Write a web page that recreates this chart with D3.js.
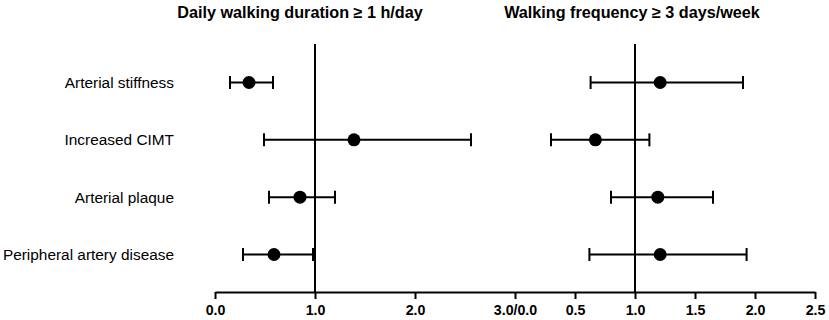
<!DOCTYPE html>
<html>
<head>
<meta charset="utf-8">
<script src="https://cdn.jsdelivr.net/npm/d3@7"></script>
<style>
  body { margin: 0; background: #fff; }
  text { font-family: "Liberation Sans", Arial, sans-serif; fill: #000; }
</style>
</head>
<body>
<script>
const w = 829;
const h = 320;

const outcomes = ['Arterial stiffness', 'Increased CIMT', 'Arterial plaque', 'Peripheral artery disease'];

// daily walking duration >= 1 h/day
const durationOR = [0.34, 1.39, 0.85, 0.59];
const durationLow = [0.15, 0.49, 0.54, 0.28];
const durationHigh = [0.58, 2.56, 1.20, 0.98];

// walking frequency >= 3 days/week
const frequencyOR = [1.21, 0.67, 1.19, 1.21];
const frequencyLow = [0.63, 0.30, 0.80, 0.62];
const frequencyHigh = [1.90, 1.12, 1.65, 1.93];

const leftTicks = [0, 1, 2, 3];
const rightTicks = [0.5, 1, 1.5, 2, 2.5];
const titles = ['Daily walking duration \u2265 1 h/day', 'Walking frequency \u2265 3 days/week'];

const axisY = 292;

const xLeft = d3.scaleLinear().domain([0, 3]).range([215, 515]);
const xRight = d3.scaleLinear().domain([0, 2.5]).range([515, 815]);
const y = d3.scalePoint().domain(outcomes).range([82.5, 254.5]);

const svg = d3.select('body').append('svg')
  .attr('width', w)
  .attr('height', h)
  .attr('viewBox', [0, 0, w, h]);

// row labels
svg.selectAll('text.row-label')
  .data(outcomes)
  .enter().append('text')
    .attr('class', 'row-label')
    .attr('x', 174)
    .attr('y', d => y(d))
    .attr('dy', '0.36em')
    .attr('text-anchor', 'end')
    .style('font-size', '15.4px')
    .text(d => d);

// titles (left one sits a bit left of its reference line)
svg.selectAll('text.title')
  .data([xLeft(1) - 15, xRight(1) - 3])
  .enter().append('text')
    .attr('class', 'title')
    .attr('x', d => d)
    .attr('y', 18)
    .attr('text-anchor', 'middle')
    .style('font-size', '16.2px')
    .style('font-weight', 'bold')
    .text((d, i) => titles[i]);

// reference lines at 1.0
svg.selectAll('line.ref')
  .data([xLeft(1), xRight(1)])
  .enter().append('line')
    .attr('class', 'ref')
    .attr('x1', d => d)
    .attr('x2', d => d)
    .attr('y1', 44)
    .attr('y2', axisY)
    .attr('stroke', '#000')
    .attr('stroke-width', 2);

// axes
const fmt = d3.format('.1f');
const axisLeft = d3.axisBottom(xLeft)
  .tickValues(leftTicks)
  .tickSize(7)
  .tickSizeOuter(0)
  .tickFormat(d => d === 3 ? '3.0/0.0' : fmt(d));
const axisRight = d3.axisBottom(xRight)
  .tickValues(rightTicks)
  .tickSize(7)
  .tickSizeOuter(0)
  .tickFormat(fmt);

[axisLeft, axisRight].forEach(ax => {
  const g = svg.append('g')
    .attr('transform', `translate(0,${axisY})`)
    .call(ax);
  g.select('.domain').attr('stroke-width', 2);
  g.selectAll('.tick line').attr('stroke-width', 2);
  g.selectAll('.tick text')
    .attr('y', 13)
    .style('font-family', '"Liberation Sans", Arial, sans-serif')
    .style('font-size', '14.2px')
    .style('font-weight', 'bold');
});

// forest plot rows
const panels = [
  { x: xLeft, or: durationOR, lo: durationLow, hi: durationHigh },
  { x: xRight, or: frequencyOR, lo: frequencyLow, hi: frequencyHigh }
];

panels.forEach(p => {
  const rows = outcomes.map((o, i) => ({ o, or: p.or[i], lo: p.lo[i], hi: p.hi[i] }));
  const g = svg.append('g');
  g.selectAll('line.ci')
    .data(rows)
    .enter().append('line')
      .attr('x1', d => p.x(d.lo))
      .attr('x2', d => p.x(d.hi))
      .attr('y1', d => y(d.o))
      .attr('y2', d => y(d.o))
      .attr('stroke', '#000')
      .attr('stroke-width', 2);
  ['lo', 'hi'].forEach(k => {
    g.selectAll('line.cap-' + k)
      .data(rows)
      .enter().append('line')
        .attr('x1', d => p.x(d[k]))
        .attr('x2', d => p.x(d[k]))
        .attr('y1', d => y(d.o) - 6.5)
        .attr('y2', d => y(d.o) + 6.5)
        .attr('stroke', '#000')
        .attr('stroke-width', 2);
  });
  g.selectAll('circle')
    .data(rows)
    .enter().append('circle')
      .attr('cx', d => p.x(d.or))
      .attr('cy', d => y(d.o))
      .attr('r', 6.5)
      .attr('fill', '#000');
});
</script>
</body>
</html>
